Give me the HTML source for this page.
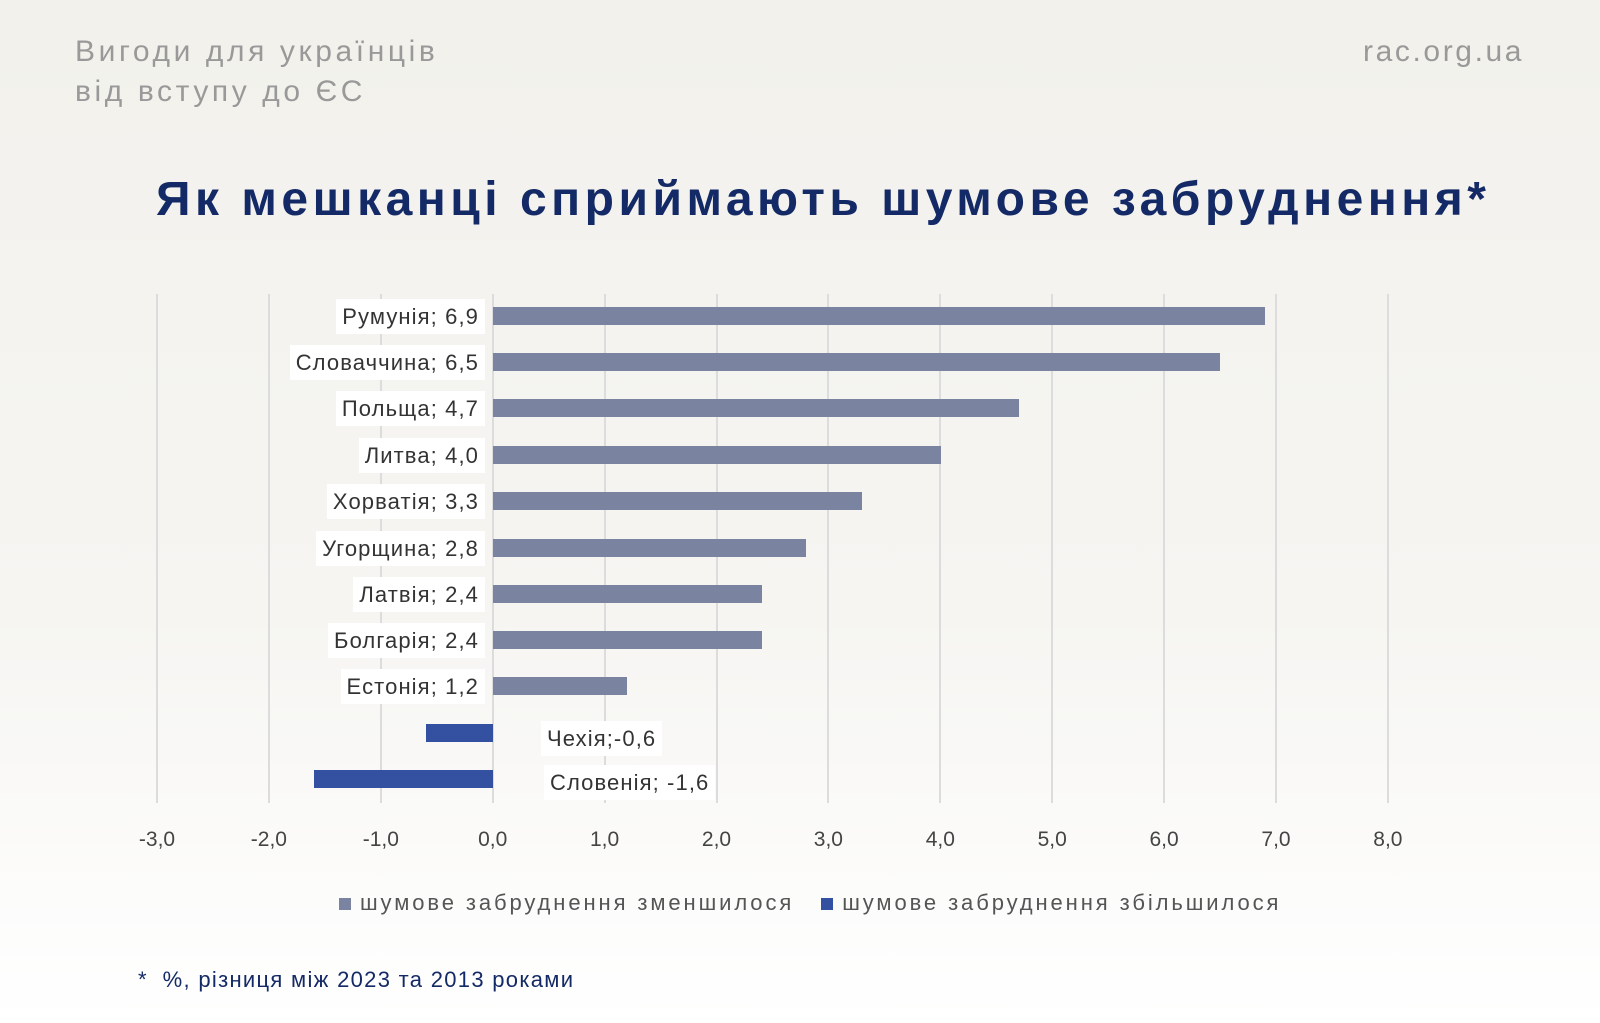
<!DOCTYPE html><html><head><meta charset="utf-8"><style>
body{margin:0;width:1600px;height:1023px;overflow:hidden;background:linear-gradient(#f2f1ec,#f6f5f2 60%,#fff);font-family:"Liberation Sans",sans-serif;position:relative}
.a{position:absolute;white-space:nowrap}
.g{position:absolute;top:294px;height:509px;width:2px;background:#dcdcdc}
.b{position:absolute;height:18px}
.l{position:absolute;background:#fff;color:#333;font-size:22px;line-height:35px;padding:0 6px;text-align:right;letter-spacing:1.1px}
.t{position:absolute;top:828px;font-size:21px;color:#444;width:60px;text-align:center}
</style></head><body>
<div class="a" style="left:75px;top:32px;font-size:30px;color:#999;line-height:40px;letter-spacing:3.6px">Вигоди для українців<br>від вступу до ЄС</div>
<div class="a" style="left:1363px;top:32px;font-size:30px;color:#999;line-height:40px;letter-spacing:2.6px">rac.org.ua</div>
<div class="a" style="left:156px;top:172px;font-size:48px;font-weight:bold;color:#142a66;letter-spacing:4.5px">Як мешканці сприймають шумове забруднення*</div>
<div id="c"></div>
<div class="a" style="left:339px;top:890px;font-size:22px;color:#555;letter-spacing:2.9px"><span style="display:inline-block;width:12px;height:12px;background:#7a83a0"></span> шумове забруднення зменшилося &nbsp; <span style="display:inline-block;width:12px;height:12px;background:#3450a0"></span> шумове забруднення збільшилося</div>
<div class="a" style="left:138px;top:967px;font-size:22px;color:#142a66;letter-spacing:1.3px">* &nbsp;%, різниця між 2023 та 2013 роками</div>
<script>
var z=493,u=111.9,h='';
for(var i=-3;i<=8;i++){var x=157+(i+3)*u;h+='<div class="g" style="left:'+(x-1)+'px"></div><div class="t" style="left:'+(x-30)+'px">'+i.toFixed(1).replace('.',',')+'</div>';}
var d=[["Румунія",6.9],["Словаччина",6.5],["Польща",4.7],["Литва",4.0],["Хорватія",3.3],["Угорщина",2.8],["Латвія",2.4],["Болгарія",2.4],["Естонія",1.2],["Чехія",-0.6],["Словенія",-1.6]];
var ys=[316,362,408,455,501,548,594,640,686,733,779];
d.forEach(function(r,k){var y=ys[k],v=r[1],s=v.toFixed(1).replace('.',',');
if(v>0){h+='<div class="b" style="background:#7a83a0;left:'+z+'px;width:'+(v*u)+'px;top:'+(y-9)+'px"></div><div class="l" style="right:'+(1600-z+8)+'px;top:'+(y-17)+'px">'+r[0]+'; '+s+'</div>';}
else{h+='<div class="b" style="background:#3450a0;left:'+(z+v*u)+'px;width:'+(-v*u)+'px;top:'+(y-9)+'px"></div><div class="l" style="left:'+(k==9?541:544)+'px;top:'+(y+(k==9?-12:-14))+'px">'+r[0]+';'+(k==10?' ':'')+s+'</div>';}
});
document.getElementById('c').innerHTML=h;
</script></body></html>
